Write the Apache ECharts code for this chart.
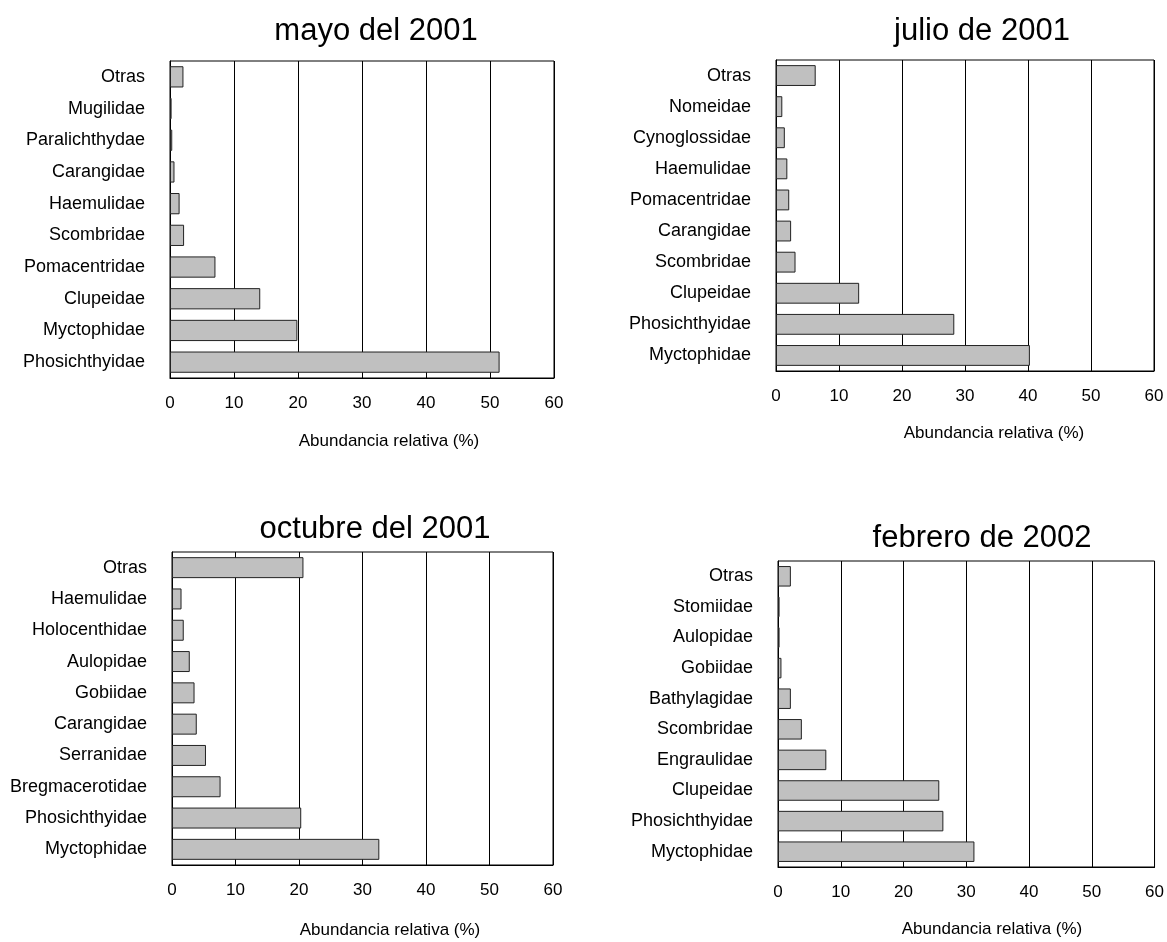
<!DOCTYPE html>
<html>
<head>
<meta charset="utf-8">
<title>Abundancia relativa</title>
<script src="https://cdn.jsdelivr.net/npm/echarts@6/dist/echarts.min.js"></script>
<style>
  html, body { margin: 0; padding: 0; background: #fff; }
  #chart { width: 1167px; height: 942px; }
</style>
</head>
<body>
<div id="chart"></div>
<script>
// familias, de arriba hacia abajo
const mayoCats = ['Otras', 'Mugilidae', 'Paralichthydae', 'Carangidae', 'Haemulidae', 'Scombridae', 'Pomacentridae', 'Clupeidae', 'Myctophidae', 'Phosichthyidae']
const mayoVals = [2.1, 0.25, 0.35, 0.7, 1.5, 2.2, 7.1, 14.1, 19.9, 51.5]

const julioCats = ['Otras', 'Nomeidae', 'Cynoglossidae', 'Haemulidae', 'Pomacentridae', 'Carangidae', 'Scombridae', 'Clupeidae', 'Phosichthyidae', 'Myctophidae']
const julioVals = [6.3, 1.0, 1.4, 1.8, 2.1, 2.4, 3.1, 13.2, 28.3, 40.3]

const octubreCats = ['Otras', 'Haemulidae', 'Holocenthidae', 'Aulopidae', 'Gobiidae', 'Carangidae', 'Serranidae', 'Bregmacerotidae', 'Phosichthyidae', 'Myctophidae']
const octubreVals = [20.7, 1.5, 1.85, 2.8, 3.55, 3.9, 5.35, 7.65, 20.35, 32.65]

const febreroCats = ['Otras', 'Stomiidae', 'Aulopidae', 'Gobiidae', 'Bathylagidae', 'Scombridae', 'Engraulidae', 'Clupeidae', 'Phosichthyidae', 'Myctophidae']
const febreroVals = [2.05, 0.25, 0.25, 0.55, 2.05, 3.8, 7.7, 25.7, 26.35, 31.3]

const panelTitles = ['mayo del 2001', 'julio de 2001', 'octubre del 2001', 'febrero de 2002']
const axisTitle = 'Abundancia relativa (%)'
const xMin = 0
const xMax = 60
const xStep = 10

const FONT = 'Arial, "Liberation Sans", sans-serif'

const panels = [
    { cats: mayoCats, vals: mayoVals, grid: { left: 170, top: 61, width: 384, height: 317 }, titleX: 376, titleY: 16, nameX: 389, nameY: 433 },
    { cats: julioCats, vals: julioVals, grid: { left: 776, top: 60, width: 378, height: 311 }, titleX: 982, titleY: 16, nameX: 994, nameY: 425 },
    { cats: octubreCats, vals: octubreVals, grid: { left: 172, top: 552, width: 381, height: 313 }, titleX: 375, titleY: 514, nameX: 390, nameY: 922 },
    { cats: febreroCats, vals: febreroVals, grid: { left: 778, top: 561, width: 378, height: 306 }, titleX: 982, titleY: 523, nameX: 992, nameY: 921 }
]

const myChart = echarts.init(document.getElementById('chart'), null, { renderer: 'canvas' })

const option = {
    backgroundColor: '#fff',
    animation: false,
    title: [],
    grid: [],
    xAxis: [],
    yAxis: [],
    series: []
}

panels.forEach((p, i) => {
    option.title.push({
        text: panelTitles[i],
        left: p.titleX,
        top: p.titleY,
        textAlign: 'center',
        padding: 0,
        textStyle: { fontFamily: FONT, fontSize: 31, fontWeight: 'normal', color: '#000' }
    })
    option.title.push({
        text: axisTitle,
        left: p.nameX,
        top: p.nameY,
        textAlign: 'center',
        padding: 0,
        textStyle: { fontFamily: FONT, fontSize: 17, fontWeight: 'normal', color: '#000' }
    })
    option.grid.push(Object.assign({ show: true, borderColor: '#000', borderWidth: 1, backgroundColor: '#fff' }, p.grid))
    option.xAxis.push({
        type: 'value',
        gridIndex: i,
        min: xMin,
        max: xMax,
        interval: xStep,
        axisLine: { show: true, lineStyle: { color: '#000', width: 1 } },
        axisTick: { show: true, inside: true, length: 5, lineStyle: { color: '#000' } },
        axisLabel: { color: '#000', fontFamily: FONT, fontSize: 17, margin: 17 },
        splitLine: { show: true, lineStyle: { color: '#000', width: 1 } }
    })
    option.yAxis.push({
        type: 'category',
        gridIndex: i,
        inverse: true,
        data: p.cats,
        axisLine: { show: true, lineStyle: { color: '#000', width: 1 } },
        axisTick: { show: false },
        axisLabel: { color: '#000', fontFamily: FONT, fontSize: 18, margin: 25 },
        splitLine: { show: false }
    })
    option.series.push({
        type: 'bar',
        xAxisIndex: i,
        yAxisIndex: i,
        data: p.vals,
        barCategoryGap: '33%',
        itemStyle: { color: '#c0c0c0', borderColor: '#222', borderWidth: 1 }
    })
})

myChart.setOption(option)
</script>
</body>
</html>
